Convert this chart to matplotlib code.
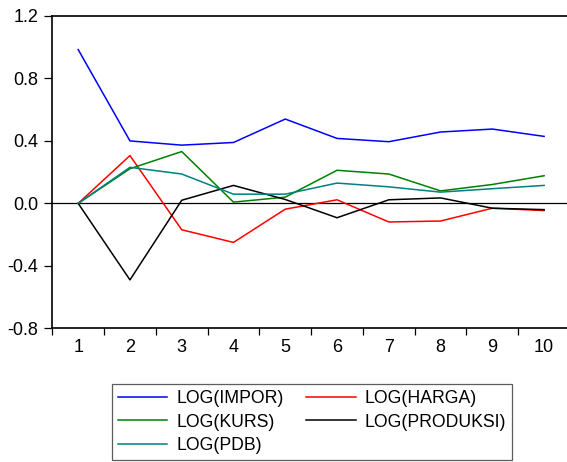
import numpy as np
import matplotlib
matplotlib.use('Agg')
import matplotlib.pyplot as plt
from matplotlib.ticker import FixedLocator, NullFormatter

# periode respon
periode = np.arange(1, 11)

# respon terhadap guncangan
log_impor = [0.985, 0.40, 0.373, 0.39, 0.54, 0.416, 0.395, 0.457, 0.476, 0.429]
log_harga = [0.0, 0.306, -0.169, -0.25, -0.037, 0.023, -0.119, -0.113, -0.031, -0.046]
log_kurs = [0.0, 0.222, 0.332, 0.008, 0.04, 0.212, 0.188, 0.08, 0.121, 0.177]
log_produksi = [0.0, -0.49, 0.02, 0.115, 0.025, -0.092, 0.023, 0.035, -0.031, -0.04]
log_pdb = [0.0, 0.231, 0.188, 0.059, 0.059, 0.13, 0.106, 0.072, 0.094, 0.115]

y_ticks = [-0.8, -0.4, 0.0, 0.4, 0.8, 1.2]

plt.rcParams['font.family'] = ['Liberation Sans', 'DejaVu Sans']

W, H = 567, 462
fig = plt.figure(figsize=(W / 100, H / 100), dpi=100)
ax = fig.add_axes([52.3 / W, 1 - 328.3 / H, (570 - 52.3) / W, (328.3 - 16) / H])

ax.plot(periode, log_impor, color='#0000ff', lw=1.1, label='LOG(IMPOR)')
ax.plot(periode, log_harga, color='#ff0000', lw=1.1, label='LOG(HARGA)')
ax.plot(periode, log_kurs, color='#008000', lw=1.1, label='LOG(KURS)')
ax.plot(periode, log_produksi, color='#000000', lw=1.1, label='LOG(PRODUKSI)')
ax.plot(periode, log_pdb, color='#008080', lw=1.1, label='LOG(PDB)')
ax.axhline(0, color='black', lw=0.9, zorder=1)

ax.set_xlim(0.5, 10.5)
ax.set_ylim(-0.8, 1.2)
ax.set_yticks(y_ticks)
ax.set_yticklabels(['%.1f' % v for v in y_ticks], fontsize=13)

# tick di antara periode, label di periode
ax.xaxis.set_major_locator(FixedLocator(np.arange(0.5, 10.5, 1.0)))
ax.xaxis.set_major_formatter(NullFormatter())
ax.xaxis.set_minor_locator(FixedLocator(periode))
ax.set_xticklabels([str(p) for p in periode], minor=True, fontsize=13)
ax.tick_params(axis='x', which='major', direction='out', length=5, width=0.9)
ax.tick_params(axis='x', which='minor', length=0, pad=8)
ax.tick_params(axis='y', direction='out', length=6, width=0.9, pad=4)

ax.spines['right'].set_visible(False)
for s in ['left', 'top', 'bottom']:
    ax.spines[s].set_linewidth(1.2)

handles, labels = ax.get_legend_handles_labels()
urutan = [0, 2, 4, 1, 3]
leg = fig.legend([handles[i] for i in urutan], [labels[i] for i in urutan],
                 loc='upper left', bbox_to_anchor=(111.7 / W, 1 - 384.3 / H),
                 borderaxespad=0, ncol=2, fontsize=12.7, frameon=True, fancybox=False,
                 edgecolor='#333333', handlelength=2.8, handletextpad=0.5,
                 columnspacing=1.3, labelspacing=0.35, borderpad=0.35)
leg.get_frame().set_linewidth(0.9)

fig.savefig('out.png', dpi=100)
